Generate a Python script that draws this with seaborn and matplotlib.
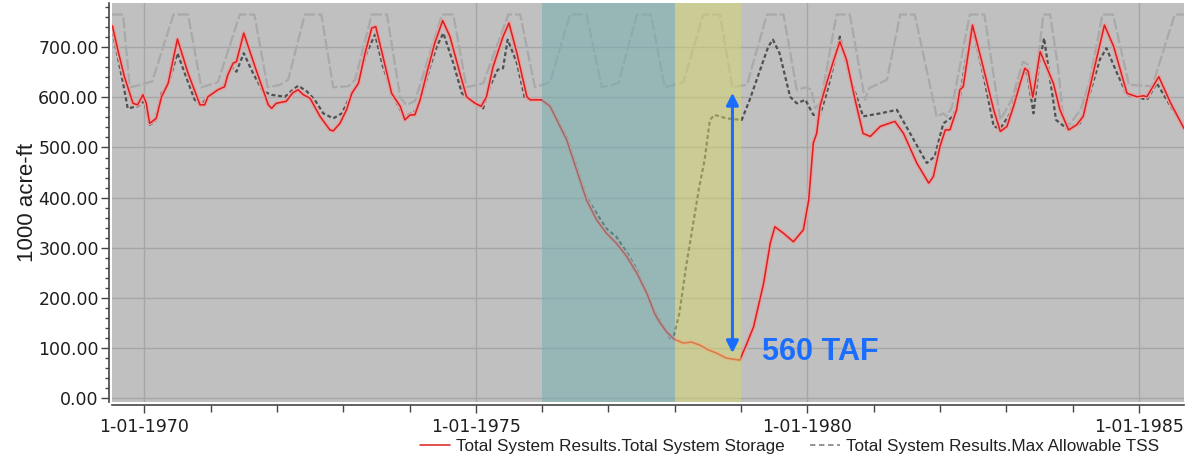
import numpy as np
import pandas as pd
import matplotlib
matplotlib.use("Agg")
import matplotlib.pyplot as plt
import matplotlib.ticker as mticker
import matplotlib.patheffects as pe
from matplotlib.lines import Line2D
import seaborn as sns

# ---------------- data (decimal years, 1000 acre-ft) ----------------
storage_t = [1969.52, 1969.60, 1969.70, 1969.83, 1969.90, 1969.98, 1970.03, 1970.08, 1970.18, 1970.26,
             1970.36, 1970.50, 1970.66, 1970.84, 1970.91, 1970.96, 1971.11, 1971.21, 1971.26, 1971.34,
             1971.39, 1971.50, 1971.67, 1971.87, 1971.92, 1971.99, 1972.14, 1972.24, 1972.32, 1972.40,
             1972.50, 1972.65, 1972.80, 1972.85, 1972.95, 1973.05, 1973.13, 1973.23, 1973.33, 1973.43,
             1973.49, 1973.60, 1973.73, 1973.86, 1973.93, 1974.01, 1974.08, 1974.16, 1974.26, 1974.38,
             1974.50, 1974.61, 1974.76, 1974.86, 1974.99, 1975.08, 1975.16, 1975.26, 1975.41, 1975.50,
             1975.62, 1975.77, 1975.82, 1975.99, 1976.12, 1976.37, 1976.52, 1976.67, 1976.82, 1976.97,
             1977.12, 1977.28, 1977.43, 1977.58, 1977.70, 1977.78, 1977.88, 1977.99, 1978.13, 1978.25,
             1978.38, 1978.50, 1978.63, 1978.78, 1978.98, 1979.09, 1979.19, 1979.34, 1979.44, 1979.51,
             1979.64, 1979.79, 1979.94, 1980.02, 1980.09, 1980.14, 1980.19, 1980.29, 1980.39, 1980.49,
             1980.59, 1980.72, 1980.84, 1980.95, 1981.10, 1981.32, 1981.45, 1981.65, 1981.83, 1981.90,
             1982.00, 1982.08, 1982.15, 1982.25, 1982.30, 1982.35, 1982.49, 1982.65, 1982.81, 1982.91,
             1983.01, 1983.11, 1983.21, 1983.28, 1983.33, 1983.40, 1983.51, 1983.71, 1983.81, 1983.94,
             1984.06, 1984.16, 1984.31, 1984.48, 1984.62, 1984.82, 1984.97, 1985.07, 1985.12, 1985.30,
             1985.48, 1985.68]
storage_v = [742, 695, 641, 588, 585, 605, 588, 548, 558, 601,
             628, 716, 648, 585, 585, 601, 615, 621, 645, 668,
             671, 728, 661, 585, 578, 588, 592, 609, 615, 605,
             598, 562, 535, 533, 548, 575, 608, 628, 688, 738,
             741, 681, 608, 582, 555, 565, 565, 595, 648, 708,
             753, 721, 648, 601, 588, 582, 601, 661, 721, 748,
             688, 601, 595, 595, 582, 515, 455, 395, 356, 329,
             309, 282, 249, 209, 168, 150, 132, 118, 110, 112,
             106, 97, 90, 80, 76, 110, 143, 229, 309, 342,
             329, 312, 336, 395, 509, 528, 582, 628, 671, 711,
             675, 595, 528, 522, 542, 552, 528, 469, 429, 442,
             502, 535, 535, 575, 615, 621, 744, 661, 575, 532,
             542, 582, 628, 658, 652, 600, 691, 628, 575, 535,
             545, 562, 648, 744, 701, 608, 601, 603, 601, 641,
             588, 538]

alt_t = [1969.52, 1969.60, 1969.68, 1969.75, 1969.90, 1970.00, 1970.08, 1970.16, 1970.26, 1970.36,
         1970.50, 1970.61, 1970.76, 1970.86, 1970.96, 1971.11, 1971.21, 1971.31, 1971.39, 1971.50,
         1971.64, 1971.79, 1971.92, 1972.12, 1972.24, 1972.32, 1972.45, 1972.57, 1972.70, 1972.85,
         1972.98, 1973.08, 1973.20, 1973.35, 1973.48, 1973.60, 1973.76, 1973.86, 1973.93, 1974.03,
         1974.11, 1974.18, 1974.31, 1974.41, 1974.51, 1974.66, 1974.79, 1974.91, 1975.11, 1975.21,
         1975.33, 1975.41, 1975.48, 1975.62, 1975.74, 1975.82, 1975.99, 1976.12, 1976.37, 1976.52,
         1976.67, 1976.82, 1976.97, 1977.12, 1977.28, 1977.43, 1977.61, 1977.72, 1977.83, 1977.93,
         1977.99, 1978.07, 1978.17, 1978.27, 1978.37, 1978.45, 1978.53, 1978.60, 1978.78, 1979.01,
         1979.13, 1979.27, 1979.41, 1979.48, 1979.58, 1979.74, 1979.84, 1979.97, 1980.09, 1980.19,
         1980.29, 1980.39, 1980.49, 1980.64, 1980.84, 1981.10, 1981.35, 1981.55, 1981.80, 1981.92,
         1982.05, 1982.20, 1982.30, 1982.40, 1982.50, 1982.65, 1982.81, 1982.91, 1983.06, 1983.20,
         1983.31, 1983.41, 1983.49, 1983.57, 1983.75, 1983.91, 1984.11, 1984.26, 1984.41, 1984.51,
         1984.67, 1984.82, 1984.97, 1985.12, 1985.27, 1985.48, 1985.68]
alt_v = [730, 681, 628, 578, 582, 592, 545, 552, 608, 625,
         688, 648, 595, 585, 601, 615, 625, 661, 651, 688,
         648, 612, 605, 601, 615, 623, 612, 595, 568, 558,
         568, 595, 621, 688, 725, 661, 601, 575, 562, 568,
         575, 601, 661, 701, 728, 668, 608, 595, 578, 621,
         655, 658, 715, 668, 598, 597, 596, 584, 520, 462,
         400, 369, 338, 322, 290, 256, 196, 168, 143, 120,
         126, 170, 262, 342, 422, 475, 555, 565, 558, 555,
         595, 648, 701, 715, 688, 601, 588, 595, 565, 565,
         608, 661, 721, 641, 562, 568, 575, 528, 469, 482,
         548, 562, 601, 681, 734, 648, 542, 538, 568, 630,
         655, 568, 661, 718, 555, 538, 548, 608, 675, 698,
         648, 605, 601, 595, 628, 582, 540]

max_t = [1969.51, 1969.68, 1969.78, 1969.95, 1970.12, 1970.44, 1970.66, 1970.86, 1971.11, 1971.44,
         1971.66, 1971.86, 1972.05, 1972.17, 1972.42, 1972.67, 1972.85, 1973.08, 1973.18, 1973.43,
         1973.66, 1973.86, 1973.95, 1974.08, 1974.49, 1974.66, 1974.86, 1975.11, 1975.49, 1975.67,
         1975.89, 1976.12, 1976.42, 1976.67, 1976.90, 1977.15, 1977.43, 1977.64, 1977.85, 1978.13,
         1978.43, 1978.68, 1978.87, 1979.09, 1979.39, 1979.64, 1979.84, 1979.98, 1980.06, 1980.12,
         1980.20, 1980.44, 1980.64, 1980.87, 1980.93, 1981.20, 1981.40, 1981.62, 1981.95, 1982.05,
         1982.10, 1982.18, 1982.45, 1982.67, 1982.91, 1983.08, 1983.25, 1983.33, 1983.41, 1983.56,
         1983.66, 1983.78, 1983.86, 1983.95, 1984.12, 1984.25, 1984.45, 1984.61, 1984.85, 1985.20,
         1985.54, 1985.68]
max_v = [765, 765, 620, 625, 632, 765, 765, 620, 630, 765,
         765, 620, 625, 635, 765, 765, 620, 622, 635, 765,
         765, 600, 585, 592, 765, 765, 620, 628, 765, 765,
         620, 630, 765, 765, 620, 628, 765, 765, 620, 630,
         765, 765, 620, 625, 765, 765, 615, 620, 615, 578,
         590, 765, 765, 595, 618, 635, 765, 765, 561, 568,
         562, 580, 765, 765, 555, 595, 671, 665, 601, 765,
         765, 661, 555, 545, 575, 628, 765, 765, 625, 622,
         765, 765]

drought_period = [1976.0, 1978.0]
refill_period = [1978.0, 1979.0]
gap_year = 1978.87
gap_top, gap_bottom = 609, 90
gap_label = "560 TAF"
major_years = [1970, 1975, 1980, 1985]
legend_labels = ["Total System Results.Total System Storage",
                 "Total System Results.Max Allowable TSS"]

# ---------------- figure ----------------
sns.set_style("white")
plt.rcParams['font.family'] = ['DejaVu Sans']

W, H = 1198, 459
fig = plt.figure(figsize=(W / 100, H / 100), dpi=100)
ax = fig.add_axes([112 / W, 1 - 402 / H, (1184 - 112) / W, (402 - 3) / H])
ax.set_facecolor('#c0c0c0')

df_max = pd.DataFrame({"t": max_t, "v": max_v})
df_alt = pd.DataFrame({"t": alt_t, "v": alt_v})
df_sto = pd.DataFrame({"t": storage_t, "v": storage_v})

sns.lineplot(data=df_max, x="t", y="v", ax=ax, color='#a9a9a9', lw=1.6,
             linestyle=(0, (5, 1.3)), estimator=None, errorbar=None, zorder=2)
sns.lineplot(data=df_alt, x="t", y="v", ax=ax, color='#505050', lw=1.6,
             linestyle=(0, (1.8, 1.2)), estimator=None, errorbar=None, zorder=3)
sns.lineplot(data=df_sto, x="t", y="v", ax=ax, color='#dc1e1e', lw=1.1,
             estimator=None, errorbar=None, zorder=4,
             path_effects=[pe.Stroke(linewidth=3.0, foreground='#e4a2a2'), pe.Normal()])

ax.axvspan(*drought_period, color='#70b0b0', alpha=0.5, lw=0, zorder=5)
ax.axvspan(*refill_period, color='#d7d76e', alpha=0.5, lw=0, zorder=5)

ax.annotate("", xy=(gap_year, gap_top), xytext=(gap_year, gap_bottom),
            arrowprops=dict(arrowstyle='<|-|>', color='#1a6eff', lw=2.2,
                            mutation_scale=18, shrinkA=0, shrinkB=0), zorder=7)
ax.text(1979.32, 92, gap_label, color='#1a6eff', fontsize=22, fontweight='bold',
        family='Liberation Sans', va='center', ha='left', zorder=8)

ax.set_xlim(1969.513, 1985.68)
ax.set_ylim(-7.4, 788)

ax.xaxis.set_major_locator(mticker.FixedLocator(major_years))
ax.xaxis.set_major_formatter(mticker.FuncFormatter(lambda v, p: f"1-01-{int(round(v))}"))
ax.xaxis.set_minor_locator(mticker.MultipleLocator(1))
ax.yaxis.set_major_locator(mticker.MultipleLocator(100))
ax.yaxis.set_minor_locator(mticker.MultipleLocator(20))
ax.yaxis.set_major_formatter(mticker.FormatStrFormatter('%.2f'))

ax.grid(True, which='major', color='#a6a6a6', lw=1.0)
ax.set_axisbelow(True)

for s in ['top', 'right']:
    ax.spines[s].set_visible(False)
for s in ['left', 'bottom']:
    ax.spines[s].set_color('#444444')
    ax.spines[s].set_linewidth(1.2)
    ax.spines[s].set_position(('outward', 2))

ax.tick_params(axis='y', which='major', length=6, width=1, color='#444444',
               labelsize=12.5, labelcolor='#1e1e1e', pad=1.5, left=True)
ax.tick_params(axis='y', which='minor', length=3, width=1, color='#444444', left=True)
ax.tick_params(axis='x', which='major', length=5.5, width=1, color='#444444',
               labelsize=12.5, labelcolor='#1e1e1e', pad=4, bottom=True)
ax.tick_params(axis='x', which='minor', length=5, width=1, color='#444444', bottom=True)

ax.set_xlabel("")
ax.set_ylabel("1000 acre-ft", fontsize=16, family='Liberation Sans', color='#1e1e1e')
ax.yaxis.set_label_coords(-0.069, 0.5)

handles = [Line2D([], [], color='#dc1e1e', lw=1.1),
           Line2D([], [], color='#8c8c8c', lw=1.3, linestyle=(0, (3, 2)))]
fig.legend(handles, legend_labels, loc='center left',
           bbox_to_anchor=(420 / W, 1 - 446 / H), ncol=2, frameon=False,
           prop={'family': 'Liberation Sans', 'size': 12.3},
           handlelength=1.75, handletextpad=0.35, columnspacing=1.5,
           borderpad=0, borderaxespad=0, labelcolor='#222222')

fig.savefig("out.png", dpi=100)
